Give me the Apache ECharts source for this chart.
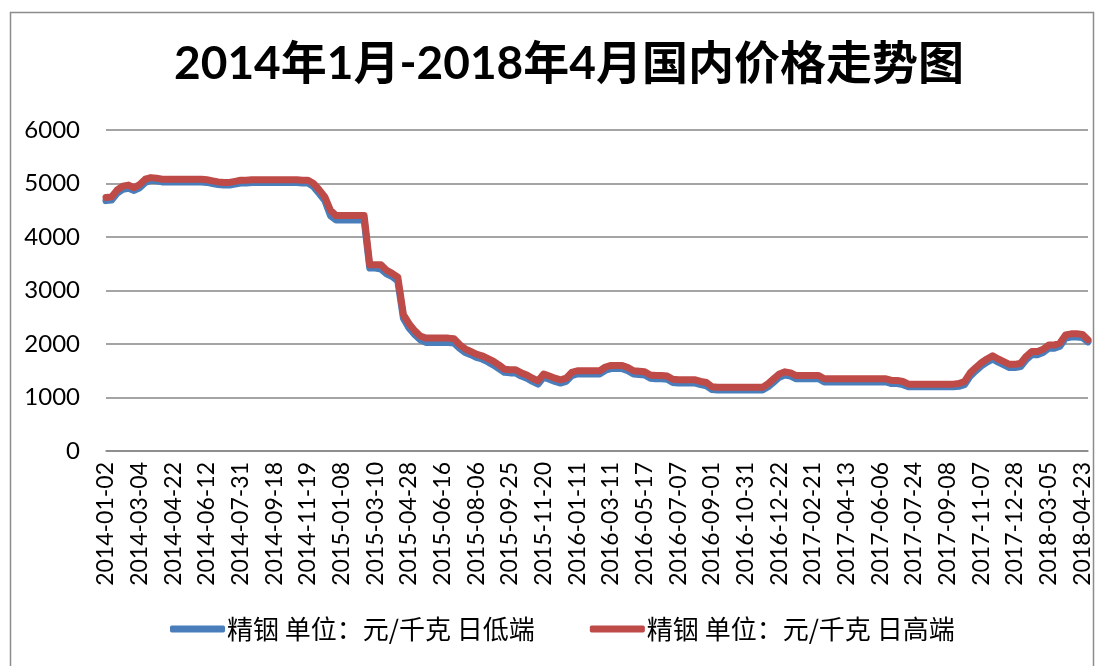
<!DOCTYPE html>
<html>
<head>
<meta charset="utf-8">
<script src="https://cdn.jsdelivr.net/npm/echarts@6/dist/echarts.min.js"></script>
<style>
  html, body { margin: 0; padding: 0; background: #fff; }
  #main { width: 1105px; height: 666px; }
</style>
</head>
<body>
<div id="main"></div>
<script>
// 横轴显示的日期（每6个点一个）
const dates = [
  "2014-01-02", "2014-03-04", "2014-04-22", "2014-06-12", "2014-07-31", "2014-09-18",
  "2014-11-19", "2015-01-08", "2015-03-10", "2015-04-28", "2015-06-16", "2015-08-06",
  "2015-09-25", "2015-11-20", "2016-01-11", "2016-03-11", "2016-05-17", "2016-07-07",
  "2016-09-01", "2016-10-31", "2016-12-22", "2017-02-21", "2017-04-13", "2017-06-06",
  "2017-07-24", "2017-09-08", "2017-11-07", "2017-12-28", "2018-03-05", "2018-04-23"
];
const step = 6;

const seriesNames = ["精铟 单位：元/千克 日低端", "精铟 单位：元/千克 日高端"];

// 日低端
const low = [
  4680, 4690, 4820, 4890, 4910, 4870, 4920, 5020, 5060, 5050, 5030, 5030, 5030, 5030, 5030, 5030, 5030, 5030,
  5020, 5000, 4980, 4970, 4970, 4990, 5010, 5010, 5020, 5020, 5020, 5020, 5020, 5020, 5020, 5020, 5020, 5010,
  5010, 4940, 4810, 4680, 4400, 4320, 4320, 4320, 4320, 4320, 4320, 3420, 3420, 3400, 3310, 3260, 3180, 2480,
  2300, 2180, 2080, 2030, 2030, 2030, 2030, 2030, 2020, 1920, 1840, 1800, 1750, 1720, 1670, 1610, 1540, 1470,
  1460, 1460, 1400, 1360, 1300, 1250, 1380, 1340, 1300, 1270, 1300, 1410, 1440, 1440, 1440, 1440, 1440, 1510,
  1540, 1540, 1540, 1500, 1440, 1430, 1420, 1360, 1350, 1350, 1340, 1280, 1270, 1270, 1270, 1270, 1240, 1220,
  1150, 1140, 1140, 1140, 1140, 1140, 1140, 1140, 1140, 1140, 1200, 1290, 1380, 1420, 1400, 1350, 1350, 1350,
  1350, 1350, 1290, 1290, 1290, 1290, 1290, 1290, 1290, 1290, 1290, 1290, 1290, 1290, 1260, 1260, 1240, 1200,
  1200, 1200, 1200, 1200, 1200, 1200, 1200, 1200, 1210, 1240, 1400, 1500, 1590, 1660, 1720, 1660, 1610, 1560,
  1560, 1580, 1710, 1800, 1800, 1840, 1920, 1920, 1960, 2110, 2130, 2130, 2120, 2040
];

// 日高端
const high = [
  4740, 4750, 4880, 4950, 4970, 4920, 4980, 5080, 5110, 5100, 5080, 5080, 5080, 5080, 5080, 5080, 5080, 5080,
  5070, 5050, 5030, 5020, 5020, 5040, 5060, 5060, 5070, 5070, 5070, 5070, 5070, 5070, 5070, 5070, 5070, 5060,
  5060, 5000, 4880, 4750, 4500, 4400, 4400, 4400, 4400, 4400, 4400, 3480, 3480, 3480, 3380, 3320, 3250, 2550,
  2380, 2250, 2150, 2110, 2110, 2110, 2110, 2110, 2100, 1990, 1910, 1860, 1810, 1780, 1730, 1680, 1610, 1530,
  1520, 1520, 1460, 1420, 1360, 1310, 1440, 1400, 1360, 1330, 1360, 1470, 1500, 1500, 1500, 1500, 1500, 1570,
  1600, 1600, 1600, 1560, 1500, 1490, 1480, 1420, 1410, 1410, 1400, 1340, 1330, 1330, 1330, 1330, 1300, 1280,
  1200, 1190, 1190, 1190, 1190, 1190, 1190, 1190, 1190, 1190, 1260, 1350, 1440, 1480, 1460, 1410, 1410, 1410,
  1410, 1410, 1350, 1350, 1350, 1350, 1350, 1350, 1350, 1350, 1350, 1350, 1350, 1350, 1320, 1320, 1300, 1250,
  1250, 1250, 1250, 1250, 1250, 1250, 1250, 1250, 1260, 1300, 1460, 1560, 1650, 1720, 1780, 1720, 1670, 1620,
  1620, 1640, 1770, 1860, 1860, 1900, 1980, 1980, 2020, 2170, 2190, 2190, 2180, 2080
];

const yTicks = { min: 0, max: 6000, interval: 1000 };

// 类目轴用序号，标签再换成日期
const categories = high.map((v, i) => String(i));

const chart = echarts.init(document.getElementById("main"));
const option = {
  backgroundColor: "#fff",
  animation: false,
  title: {
    text: "2014年1月-2018年4月国内价格走势图",
    left: 564,
    top: 36,
    textAlign: "center",
    textStyle: {
      fontFamily: "Lato, 'Noto Sans CJK SC'",
      fontSize: 46,
      fontWeight: "bold",
      color: "#000"
    }
  },
  grid: {
    left: 106,
    right: 17,
    top: 130,
    bottom: 215
  },
  legend: {
    left: 165,
    top: 611,
    itemWidth: 55,
    itemHeight: 7,
    itemGap: 55,
    icon: "roundRect",
    textStyle: {
      fontFamily: "'Noto Sans CJK SC'",
      fontSize: 26,
      color: "#000",
      padding: [0, 0, 0, -3]
    },
    data: seriesNames
  },
  xAxis: {
    type: "category",
    data: categories,
    boundaryGap: false,
    axisLine: { lineStyle: { color: "#868686", width: 1.5 } },
    axisTick: { show: false },
    axisLabel: {
      interval: step - 1,
      rotate: 90,
      margin: 11,
      fontFamily: "Lato",
      fontSize: 23,
      color: "#000",
      formatter: function (v, i) {
        return dates[i / step] || "";
      }
    },
    splitLine: { show: false }
  },
  yAxis: {
    type: "value",
    min: yTicks.min,
    max: yTicks.max,
    interval: yTicks.interval,
    axisLine: { show: false },
    axisTick: { show: false },
    axisLabel: {
      margin: 26,
      fontFamily: "Lato",
      fontSize: 24,
      color: "#000",
      formatter: function (v) {
        return String(v);
      }
    },
    splitLine: { lineStyle: { color: "#868686", width: 1.5 } }
  },
  series: [
    {
      name: seriesNames[0],
      type: "line",
      data: low,
      showSymbol: false,
      color: "#4A7EBB",
      lineStyle: { width: 7, color: "#4A7EBB", cap: "round", join: "round" }
    },
    {
      name: seriesNames[1],
      type: "line",
      data: high,
      showSymbol: false,
      color: "#BE4B48",
      lineStyle: { width: 7, color: "#BE4B48", cap: "round", join: "round" }
    }
  ],
  graphic: [
    {
      type: "rect",
      shape: { x: 10.5, y: 12.5, width: 1083, height: 700 },
      style: { fill: "none", stroke: "#8c8c8c", lineWidth: 1.5 },
      silent: true
    }
  ]
};
chart.setOption(option);
</script>
</body>
</html>
